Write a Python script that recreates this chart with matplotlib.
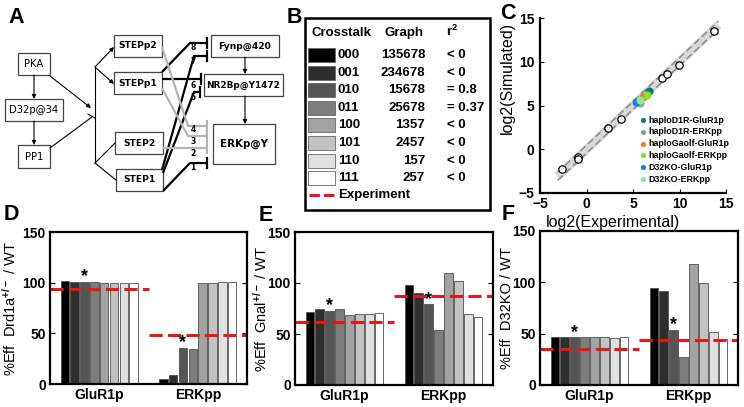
import matplotlib
matplotlib.use('Agg')
import matplotlib.pyplot as plt
from matplotlib.patches import Rectangle
import numpy as np

plt.rcParams['font.family'] = ['Liberation Sans', 'DejaVu Sans']
plt.rcParams['font.weight'] = 'bold'
plt.rcParams['lines.scale_dashes'] = False
plt.rcParams['mathtext.fontset'] = 'custom'
plt.rcParams['mathtext.rm'] = 'Liberation Sans:bold'
plt.rcParams['mathtext.bf'] = 'Liberation Sans:bold'
plt.rcParams['mathtext.default'] = 'bf'

# ---------------- data ----------------
crosstalk = ['000', '001', '010', '011', '100', '101', '110', '111']
graph_ids = ['135678', '234678', '15678', '25678', '1357', '2457', '157', '257']
r2_text = ['< 0', '< 0', '= 0.8', '= 0.37', '< 0', '< 0', '< 0', '< 0']
groups = ['GluR1p', 'ERKpp']

d_glur = [102, 101, 101, 101, 100, 100, 100, 100]
d_erk = [5, 9, 36, 35, 100, 100, 101, 101]
d_exp = [93.5, 48.5]

e_glur = [72, 75, 73, 75, 69, 69.5, 69.5, 70.5]
e_erk = [98, 90, 79, 54, 110, 102, 70, 67]
e_exp = [62, 87]

f_glur = [46.5, 46.5, 46.5, 46.5, 46.5, 46.5, 46, 46.5]
f_erk = [94, 92, 54, 27.5, 118, 99, 52, 44.5]
f_exp = [35.5, 43.5]

exp_x = [-2.6, -0.9, -0.9, 2.3, 3.7, 8.1, 8.7, 9.9, 13.7]
sim_y = [-2.3, -0.85, -1.15, 2.4, 3.5, 8.1, 8.6, 9.6, 13.5]

mut_names = ['haploD1R-GluR1p', 'haploD1R-ERKpp', 'haploGaolf-GluR1p',
             'haploGaolf-ERKpp', 'D32KO-GluR1p', 'D32KO-ERKpp']
mut_x = [6.7, 5.8, 6.1, 6.5, 5.3, 5.7]
mut_y = [6.7, 5.3, 6.0, 6.2, 5.45, 5.65]
mut_colors = ['#137a6c', '#9a9a9a', '#f07a1e', '#86e02c', '#1f78e6', '#8ee890']

gray_colors = ['#000000', '#2e2e2e', '#555555', '#7d7d7d', '#a2a2a2', '#c2c2c2', '#e0e0e0', '#ffffff']
RED = '#e5171c'

W, H = 744, 407
fig = plt.figure(figsize=(W / 100, H / 100), dpi=100)


def rect(x0, y0, x1, y1):
    return [x0 / W, 1 - y1 / H, (x1 - x0) / W, (y1 - y0) / H]


# ---------------- overlay (panel A diagram, panel B table, letters) ----------------
ov = fig.add_axes([0, 0, 1, 1])
ov.set_xlim(0, W)
ov.set_ylim(H, 0)
ov.axis('off')

for letter, (lx, ly) in {'A': (8, 7), 'B': (287, 7), 'C': (500, 3), 'D': (4, 204), 'E': (259, 205), 'F': (502, 204)}.items():
    ov.text(lx, ly, letter, fontsize=15.5, fontweight='heavy', va='top', ha='left', color='black')

# --- panel A diagram (layout in pixel coords) ---
nodes = {
    'PKA': (18, 53, 50, 75, 'normal', 7.2),
    'D32p@34': (5, 99, 63, 121, 'normal', 7.2),
    'PP1': (18, 145, 50, 168, 'normal', 7.2),
    'STEPp2': (114, 35, 162, 57, 'bold', 6.6),
    'STEPp1': (114, 72, 162, 94, 'bold', 6.6),
    'STEP2': (115, 132, 163, 154, 'bold', 6.6),
    'STEP1': (116, 169, 163, 191, 'bold', 6.6),
    'Fynp@420': (211, 35, 279, 57, 'bold', 6.6),
    'NR2Bp@Y1472': (204, 74, 283, 96, 'bold', 6.4),
    'ERKp@Y': (213, 124, 275, 164, 'bold', 7.4),
}
for name, (x0, y0, x1, y1, fw, fs) in nodes.items():
    ov.add_patch(Rectangle((x0, y0), x1 - x0, y1 - y0, fill=False, ec='#444444', lw=0.9))
    ov.text((x0 + x1) / 2, (y0 + y1) / 2, name, family='DejaVu Sans', fontweight=fw,
            fontsize=fs, ha='center', va='center')


def arrow(p0, p1, head=True, color='black', lw=0.8):
    if head:
        ov.annotate('', xy=p1, xytext=p0,
                    arrowprops=dict(arrowstyle='-|>', color=color, lw=lw,
                                    mutation_scale=6, shrinkA=0, shrinkB=0))
    else:
        ov.plot([p0[0], p1[0]], [p0[1], p1[1]], color=color, lw=lw)


arrow((34, 75), (34, 99))
arrow((34, 121), (34, 145))
arrow((50, 76), (91, 108))
arrow((50, 148), (92, 117), head=False)
ov.plot([88, 95], [114, 118], color='black', lw=0.8)
ov.plot([95, 95], [67, 163], color='black', lw=0.8)
arrow((95, 67), (114, 47))
arrow((95, 67), (114, 84))
arrow((95, 163), (115, 143), head=False)
arrow((95, 163), (116, 180), head=False)
arrow((245, 57), (245, 74))
arrow((245, 96), (245, 124))

links = [
    ('8', [(162, 72), (190, 43), (207, 43)], 'black', (193, 48)),
    ('7', [(162, 170), (194, 56), (207, 56)], 'black', (193, 61)),
    ('6', [(162, 79), (201, 79)], 'black', (193, 85)),
    ('5', [(163, 173), (194, 92), (200, 92)], 'black', (193, 97)),
    ('4', [(162, 47), (188, 126), (207, 126)], '#b4b4b4', (193, 130)),
    ('3', [(162, 88), (188, 136), (207, 136)], '#b4b4b4', (193, 142)),
    ('2', [(163, 148), (207, 148)], '#b4b4b4', (193, 153)),
    ('1', [(163, 191), (190, 163), (207, 163)], 'black', (193, 168)),
]
for lab, pts, col, lp in links:
    xs = [p[0] for p in pts]
    ys = [p[1] for p in pts]
    ov.plot(xs, ys, color=col, lw=1.6, solid_capstyle='butt')
    ov.plot([xs[-1], xs[-1]], [ys[-1] - 5, ys[-1] + 5], color=col, lw=1.6)
    ov.text(lp[0], lp[1], lab, family='DejaVu Sans', fontsize=5.5, fontweight='bold',
            ha='center', va='center')

# --- panel B table ---
ov.add_patch(Rectangle((305, 18), 185, 192, fill=False, ec='black', lw=1.8))
ov.text(311, 33, 'Crosstalk', fontsize=9.5, ha='left', va='center')
ov.text(404, 33, 'Graph', fontsize=9.5, ha='center', va='center')
ov.text(452, 31, r'r$^{2}$', fontsize=9.5, ha='center', va='center')
row_y = 55 + 17.6 * np.arange(len(crosstalk))
for i, (c, g, r) in enumerate(zip(crosstalk, graph_ids, r2_text)):
    y = row_y[i]
    ov.add_patch(Rectangle((308, y - 7), 27, 14, fc=gray_colors[i], ec='#666666', lw=0.6))
    ov.text(338, y, c, fontsize=9.5, ha='left', va='center')
    ov.text(425, y, g, fontsize=9.5, ha='right', va='center')
    ov.text(447, y, r, fontsize=9.5, ha='left', va='center')
ov.plot([309, 336], [195, 195], color=RED, lw=2.2, dashes=(7.5, 3.0))
ov.text(338, 195, 'Experiment', fontsize=9.5, ha='left', va='center')

# ---------------- panel C ----------------
axC = fig.add_axes(rect(540, 18, 726, 193))
axC.set_xlim(-5, 15)
axC.set_ylim(-5, 15)
axC.plot([-3.1, 14.2], [-3.1, 14.2], color='#d9d9d9', lw=6.5, solid_capstyle='butt', zorder=1)
for off in (-0.45, 0.45):
    axC.plot([-3.1, 14.2], [-3.1 + off, 14.2 + off], color='#8a8a8a', lw=1.1, dashes=(5, 2.5), zorder=2)
axC.scatter(exp_x, sim_y, s=28, facecolor='white', edgecolor='black', lw=0.9, zorder=3)
for i, (n, x, y, c) in enumerate(zip(mut_names, mut_x, mut_y, mut_colors)):
    axC.scatter([x], [y], s=34, color=c, zorder=4, lw=0)
    ly = 0.417 - i * 0.0675
    axC.scatter([0.553], [ly], s=14, color=c, lw=0, transform=axC.transAxes, zorder=5)
    axC.text(0.585, ly, n, fontsize=6.4, ha='left', va='center', transform=axC.transAxes)
for s in ['top', 'right']:
    axC.spines[s].set_visible(False)
for s in ['left', 'bottom']:
    axC.spines[s].set_linewidth(1.6)
axC.set_xticks([-5, 0, 5, 10, 15])
axC.set_yticks([-5, 0, 5, 10, 15])
axC.tick_params(direction='in', length=3, width=0.8, labelsize=10)
axC.tick_params(axis='x', pad=3)
axC.tick_params(axis='y', pad=4)
axC.set_xlabel('log2(Experimental)', fontsize=11.5)
axC.set_ylabel('log2(Simulated)', fontsize=11.5)
axC.xaxis.set_label_coords(0.39, -0.125)
axC.yaxis.set_label_coords(-0.135, 0.655)


# ---------------- panels D, E, F ----------------
def bar_panel(rpx, glur, erk, exp, ylabel, lab_x):
    ax = fig.add_axes(rect(*rpx))
    for g, vals in enumerate([glur, erk], start=1):
        xs = g + (np.arange(len(vals)) - 3.5) * 0.1
        ax.bar(xs, vals, width=0.086, color=gray_colors, edgecolor='#505050', linewidth=0.6, zorder=2)
        ax.text(xs[2], vals[2] + 5, '*', fontsize=13, ha='center', va='center', zorder=4)
        ax.plot([g - 0.5, g + 0.5], [exp[g - 1], exp[g - 1]], color=RED, lw=2.2,
                dashes=(9.5, 3.8), zorder=3)
    ax.set_xlim(0.5, 2.5)
    ax.set_ylim(0, 150)
    ax.set_xticks([1, 2])
    ax.set_xticklabels(groups)
    ax.set_yticks([0, 50, 100, 150])
    ax.tick_params(direction='in', right=True, top=True, length=3.5, width=0.8,
                   labelsize=10, pad=3)
    ax.tick_params(axis='x', length=0)
    for s in ax.spines.values():
        s.set_linewidth(1.6)
        s.set_zorder(5)
    ax.set_ylabel(ylabel, fontsize=10.5)
    ax.yaxis.set_label_coords(lab_x, 0.5)
    return ax


bar_panel((50, 232, 247, 384), d_glur, d_erk, d_exp, r'%Eff  Drd1a$^{+/-}$ / WT', -0.16)
bar_panel((295, 232, 493, 385), e_glur, e_erk, e_exp, r'%Eff  Gnal$^{+/-}$ / WT', -0.13)
bar_panel((540, 231, 738, 385), f_glur, f_erk, f_exp, r'%Eff  D32KO / WT', -0.13)

fig.savefig('out.png', dpi=100)
